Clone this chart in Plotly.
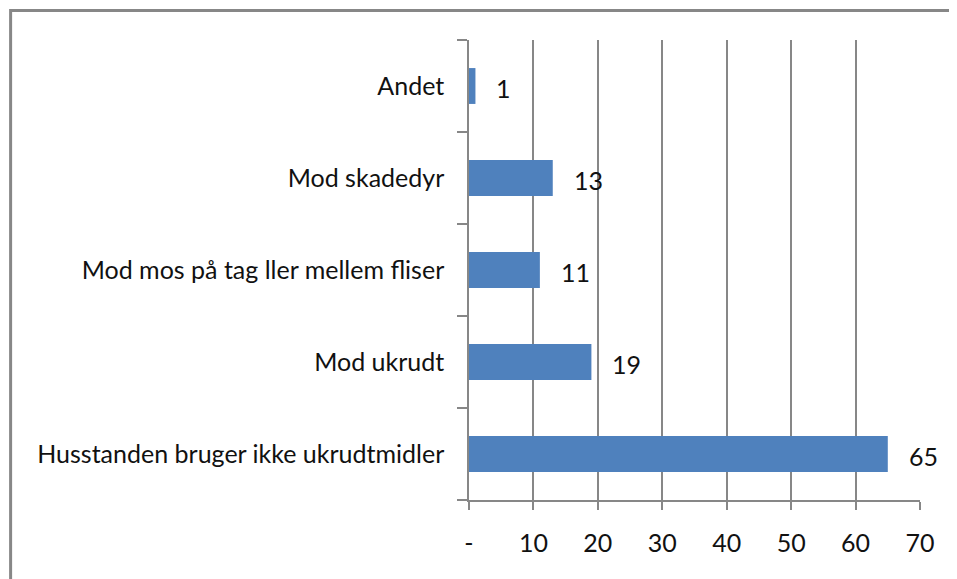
import plotly.graph_objects as go

categories = ["Husstanden bruger ikke ukrudtmidler", "Mod ukrudt",
              "Mod mos på tag ller mellem fliser", "Mod skadedyr", "Andet"]
values = [65, 19, 11, 13, 1]
tick_vals = [0, 10, 20, 30, 40, 50, 60, 70]
tick_text = ["-", "10", "20", "30", "40", "50", "60", "70"]

FONT = "Lato"
FS = 25
GRAY = "#878787"
TXT = "#111111"

fig = go.Figure(go.Bar(
    x=values, y=categories, orientation="h",
    marker=dict(color="#4F81BD", line=dict(width=0)),
    width=0.39,
))

for c, v in zip(categories, values):
    fig.add_annotation(x=v, y=c, text=str(v), showarrow=False,
                       xanchor="left", xshift=19, yshift=-2,
                       font=dict(family=FONT, size=FS, color=TXT))

OFF = 8  # default page body margin
W, H = 957 - OFF, 579 - OFF
l = 468.7 - OFF
r = W - (920.5 - OFF)
t = 40 - OFF
b = H - (500 - OFF)
pw, ph = W - l - r, H - t - b

fig.add_shape(type="rect", xref="paper", yref="paper",
              x0=(9.5 - OFF - l) / pw, x1=2.5, y0=-1.5,
              y1=((500 - OFF) - (10.5 - OFF)) / ph,
              line=dict(color=GRAY, width=3), fillcolor="rgba(0,0,0,0)",
              layer="below")

fig.update_layout(
    width=W, height=H,
    margin=dict(l=l, r=r, t=t, b=b, pad=0),
    paper_bgcolor="white", plot_bgcolor="white",
    showlegend=False,
    font=dict(family=FONT, size=FS, color=TXT),
    xaxis=dict(range=[0, 70], tickvals=tick_vals, ticktext=tick_text,
               showgrid=True, gridcolor=GRAY, gridwidth=1.5,
               showline=True, linecolor=GRAY, linewidth=1.5,
               ticks="outside", ticklen=8, tickcolor=GRAY, tickwidth=1.5,
               ticklabelstandoff=12, zeroline=False,
               tickfont=dict(family=FONT, size=FS, color=TXT)),
    yaxis=dict(type="category", categoryorder="array", categoryarray=categories,
               showgrid=False, showline=True, linecolor=GRAY, linewidth=1.5,
               ticks="outside", ticklen=10, tickcolor=GRAY, tickwidth=1.5,
               tickson="boundaries", ticklabelstandoff=18,
               tickfont=dict(family=FONT, size=FS, color=TXT)),
)

fig.write_html("out.html")
